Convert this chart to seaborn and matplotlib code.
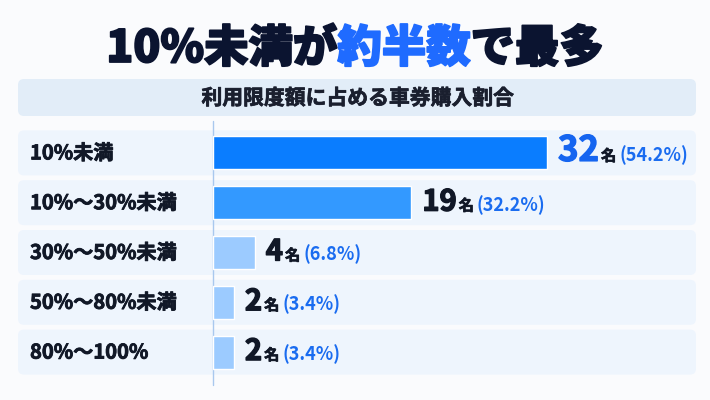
import matplotlib
matplotlib.use("Agg")
import matplotlib.pyplot as plt
import matplotlib.patheffects as pe
from matplotlib.patches import FancyBboxPatch
import seaborn as sns
import pandas as pd

# data
categories = ["10%未満", "10%〜30%未満", "30%〜50%未満", "50%〜80%未満", "80%〜100%"]
counts = [32, 19, 4, 2, 2]
shares = [54.2, 32.2, 6.8, 3.4, 3.4]
bar_colors = ["#0A7DFF", "#3399FF", "#9CCBFF", "#9CCBFF", "#9CCBFF"]

title_parts = ["10%未満が", "約半数", "で最多"]
title_colors = ["#0B1430", "#1F6BFF", "#0B1430"]
subtitle = "利用限度額に占める車券購入割合"

sns.set_theme(style="white")
plt.rcParams["font.family"] = ["Noto Sans CJK JP", "DejaVu Sans"]

W, H = 710, 400
fig = plt.figure(figsize=(W / 100, H / 100), dpi=100)
fig.patch.set_facecolor("#FAFBFD")

# background axes in pixel units for the decorations
bg = fig.add_axes([0, 0, 1, 1])
bg.set_xlim(0, W)
bg.set_ylim(H, 0)
bg.axis("off")


def heavy(col, lw):
    # fake a black weight with a thin stroke in the same colour
    return [pe.withStroke(linewidth=lw, foreground=col)]


# title, three coloured pieces chained together
t = bg.text(105, 62, title_parts[0], fontsize=30, fontweight="heavy",
            color=title_colors[0], va="baseline", path_effects=heavy(title_colors[0], 1.3))
pieces = [t]
for part, col in zip(title_parts[1:], title_colors[1:]):
    t = bg.annotate(part, xy=(1, 62), xycoords=(pieces[-1], "data"),
                    xytext=(0, 0), textcoords="offset pixels",
                    fontsize=30, fontweight="heavy", color=col, va="baseline",
                    path_effects=heavy(col, 1.3))
    pieces.append(t)
fig.canvas.draw()
r = fig.canvas.get_renderer()
width = pieces[-1].get_window_extent(r).x1 - pieces[0].get_window_extent(r).x0
size = 30 * 497 / width
for p in pieces:
    p.set_fontsize(size)
fig.canvas.draw()
width = pieces[-1].get_window_extent(r).x1 - pieces[0].get_window_extent(r).x0
pieces[0].set_x(355 - width / 2)

# subtitle box
bg.add_patch(FancyBboxPatch((18, 79), 678, 37, boxstyle="round,pad=0,rounding_size=6",
                            fc="#E2EDF8", ec="none"))
bg.text(358, 98, subtitle, ha="center", va="center", fontsize=15,
        fontweight="bold", color="#1A1F2E", path_effects=heavy("#1A1F2E", 0.5))

# bar area
top, bottom, left, right = 128, 377, 213, 696
row_h = (bottom - top) / len(categories)
for i, cat in enumerate(categories):
    yc = top + (i + 0.5) * row_h
    bg.add_patch(FancyBboxPatch((18, yc - 22.5), 678, 45,
                                boxstyle="round,pad=0,rounding_size=6",
                                fc="#EEF5FD", ec="none"))
    bg.text(30, yc, cat, ha="left", va="center", fontsize=14.5,
            fontweight="bold", color="#111827", path_effects=heavy("#111827", 0.6))
bg.plot([left, left], [121, 385], color="#A9C8EE", lw=1)

ax = fig.add_axes([left / W, 1 - bottom / H, (right - left) / W, (bottom - top) / H])
ax.patch.set_alpha(0)
df = pd.DataFrame({"cat": categories, "count": counts})
sns.barplot(data=df, x="count", y="cat", hue="cat", palette=bar_colors,
            legend=False, width=0.66, saturation=1, ax=ax)
ax.set_xlim(0, 32 * (right - left) / (547 - left))
ax.set_ylim(len(categories) - 0.5, -0.5)
ax.axis("off")

# value labels: number, 名, (share%)
for i, (c, s) in enumerate(zip(counts, shares)):
    big = 25 if i == 0 else 21
    num_col = "#1565F0" if i == 0 else "#111827"
    t1 = ax.annotate(str(c), xy=(c, i + 0.16), xytext=(11, 0), textcoords="offset pixels",
                     fontsize=big, fontweight="bold", color=num_col, va="baseline",
                     annotation_clip=False, path_effects=heavy(num_col, 1.0))
    t2 = ax.annotate("名", xy=(1, i + 0.16), xycoords=(t1, "data"), xytext=(2, 0),
                     textcoords="offset pixels", fontsize=11, fontweight="bold",
                     color="#111827", va="baseline", annotation_clip=False,
                     path_effects=heavy("#111827", 0.5))
    ax.annotate(f"({s}%)", xy=(1, i + 0.16), xycoords=(t2, "data"), xytext=(3, 0),
                textcoords="offset pixels", fontsize=13, fontweight="bold",
                color="#1A6CF0", va="baseline", annotation_clip=False)

fig.savefig("out.png", dpi=100, facecolor=fig.get_facecolor())
